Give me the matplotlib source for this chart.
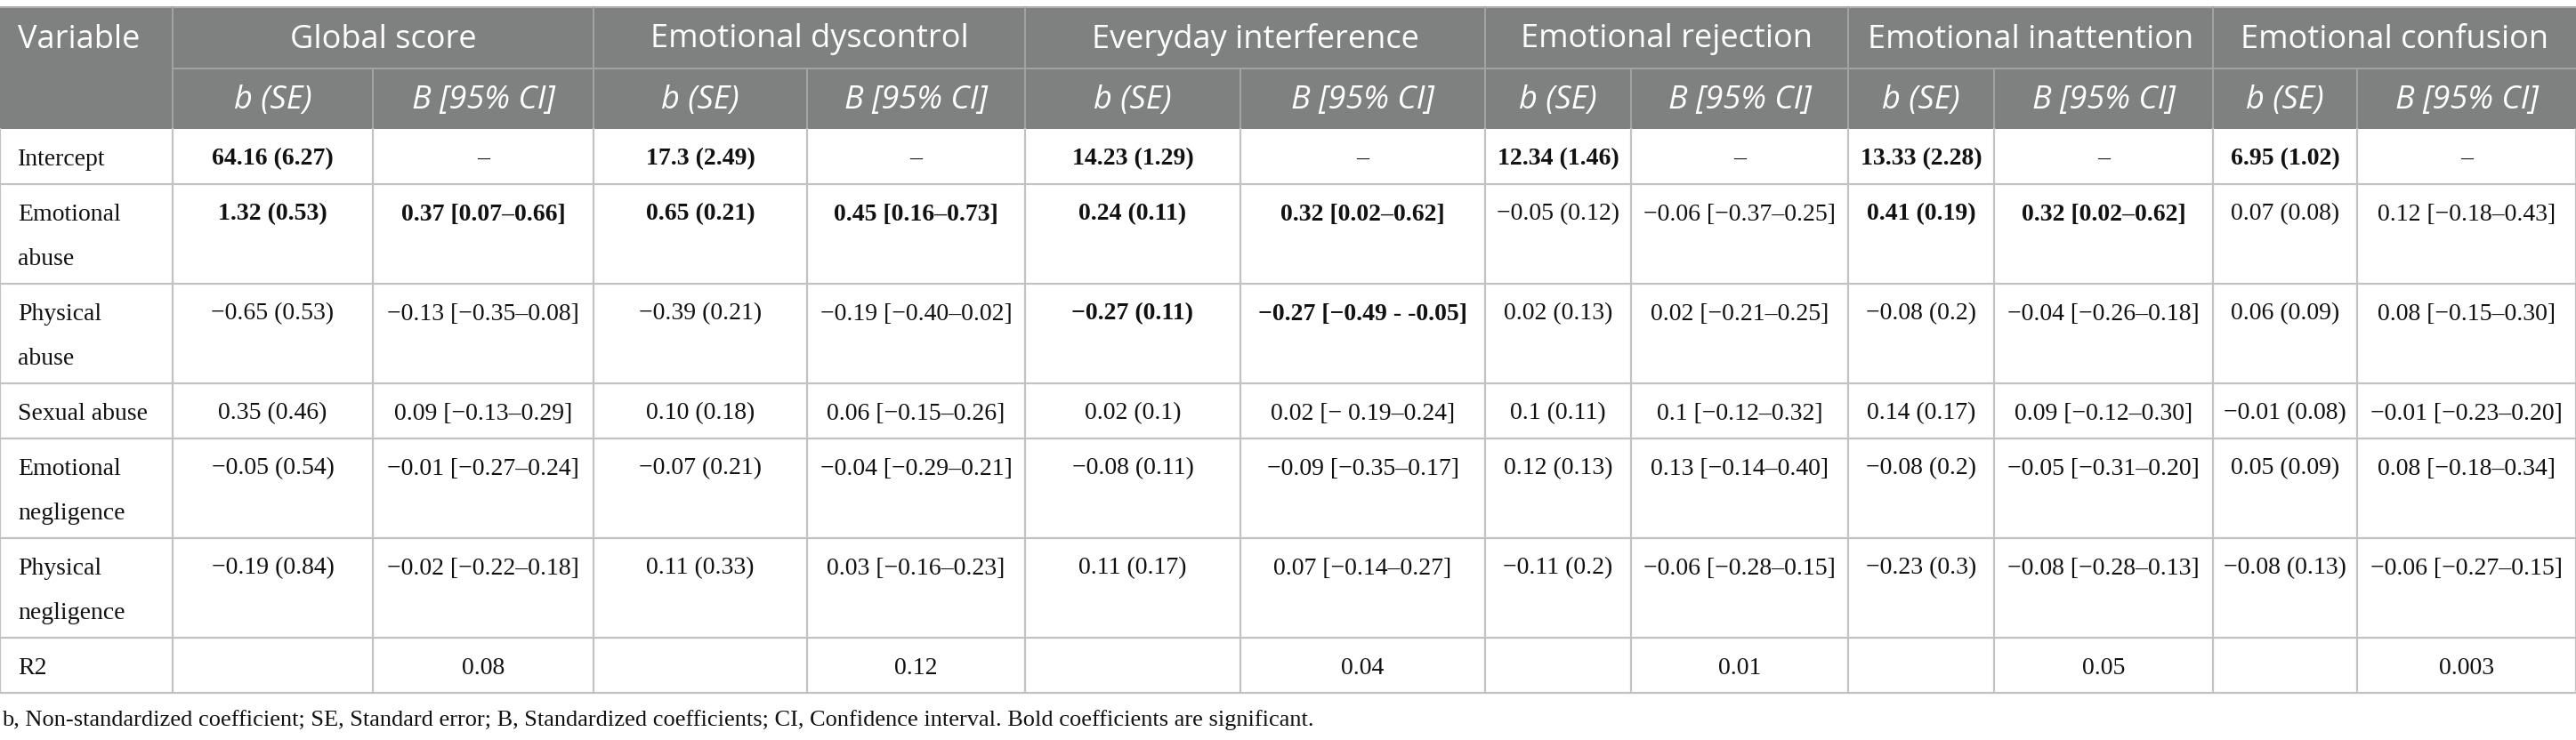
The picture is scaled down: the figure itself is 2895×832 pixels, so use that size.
import matplotlib
matplotlib.use("Agg")
import matplotlib.pyplot as plt
from matplotlib import font_manager as fm
from matplotlib.patches import Rectangle

# ---- table content ----
outcomes = ["Global score", "Emotional dyscontrol", "Everyday interference",
            "Emotional rejection", "Emotional inattention", "Emotional confusion"]
sub_headers = ["b (SE)", "B [95% CI]"]
variables = ["Intercept", "Emotional\nabuse", "Physical\nabuse", "Sexual abuse",
             "Emotional\nnegligence", "Physical\nnegligence"]

global_b = ["64.16 (6.27)", "1.32 (0.53)", "−0.65 (0.53)", "0.35 (0.46)", "−0.05 (0.54)", "−0.19 (0.84)"]
global_B = ["–", "0.37 [0.07–0.66]", "−0.13 [−0.35–0.08]", "0.09 [−0.13–0.29]", "−0.01 [−0.27–0.24]", "−0.02 [−0.22–0.18]"]
dyscontrol_b = ["17.3 (2.49)", "0.65 (0.21)", "−0.39 (0.21)", "0.10 (0.18)", "−0.07 (0.21)", "0.11 (0.33)"]
dyscontrol_B = ["–", "0.45 [0.16–0.73]", "−0.19 [−0.40–0.02]", "0.06 [−0.15–0.26]", "−0.04 [−0.29–0.21]", "0.03 [−0.16–0.23]"]
interference_b = ["14.23 (1.29)", "0.24 (0.11)", "−0.27 (0.11)", "0.02 (0.1)", "−0.08 (0.11)", "0.11 (0.17)"]
interference_B = ["–", "0.32 [0.02–0.62]", "−0.27 [−0.49 - -0.05]", "0.02 [− 0.19–0.24]", "−0.09 [−0.35–0.17]", "0.07 [−0.14–0.27]"]
rejection_b = ["12.34 (1.46)", "−0.05 (0.12)", "0.02 (0.13)", "0.1 (0.11)", "0.12 (0.13)", "−0.11 (0.2)"]
rejection_B = ["–", "−0.06 [−0.37–0.25]", "0.02 [−0.21–0.25]", "0.1 [−0.12–0.32]", "0.13 [−0.14–0.40]", "−0.06 [−0.28–0.15]"]
inattention_b = ["13.33 (2.28)", "0.41 (0.19)", "−0.08 (0.2)", "0.14 (0.17)", "−0.08 (0.2)", "−0.23 (0.3)"]
inattention_B = ["–", "0.32 [0.02–0.62]", "−0.04 [−0.26–0.18]", "0.09 [−0.12–0.30]", "−0.05 [−0.31–0.20]", "−0.08 [−0.28–0.13]"]
confusion_b = ["6.95 (1.02)", "0.07 (0.08)", "0.06 (0.09)", "−0.01 (0.08)", "0.05 (0.09)", "−0.08 (0.13)"]
confusion_B = ["–", "0.12 [−0.18–0.43]", "0.08 [−0.15–0.30]", "−0.01 [−0.23–0.20]", "0.08 [−0.18–0.34]", "−0.06 [−0.27–0.15]"]
r2_values = ["0.08", "0.12", "0.04", "0.01", "0.05", "0.003"]

# rows (besides intercept b) whose coefficients are significant, per outcome
significant_rows = [[1], [1], [1, 2], [], [1], []]

footnote = ("b, Non-standardized coefficient; SE, Standard error; B, Standardized coefficients; "
            "CI, Confidence interval. Bold coefficients are significant.")

columns_b = [global_b, dyscontrol_b, interference_b, rejection_b, inattention_b, confusion_b]
columns_B = [global_B, dyscontrol_B, interference_B, rejection_B, inattention_B, confusion_B]

# ---- layout (pixels) ----
W, H = 2895, 832
col_widths = [194, 225, 248, 240, 245, 242, 275, 164, 244, 164, 246, 162, 246]
top = 8
head1_h, head2_h = 69, 68
line_h = 50
pad = 6

HEAD_BG = "#7f8080"
HEAD_LINE = "#a3a3a3"
GRID = "#c2c2c2"
TXT = "#111111"


def pick_italic(families):
    for fam in families:
        for f in fm.fontManager.ttflist:
            if f.name == fam and f.style == "italic" and f.weight in (400, "normal", "regular"):
                return fam
    return "DejaVu Sans"


sans = ["Open Sans", "DejaVu Sans"]
sans_it = pick_italic(["Open Sans", "Noto Sans", "Lato", "Roboto", "DejaVu Sans"])
serif = ["Liberation Serif", "DejaVu Serif"]

fig = plt.figure(figsize=(W / 100, H / 100), dpi=100)
ax = fig.add_axes([0, 0, 1, 1])
ax.set_xlim(0, W)
ax.set_ylim(H, 0)
ax.axis("off")

x_edges = [0]
for w in col_widths:
    x_edges.append(x_edges[-1] + w)

y_h1 = top + head1_h
y_h2 = y_h1 + head2_h

# header background
ax.add_patch(Rectangle((0, top), W, head1_h + head2_h, facecolor=HEAD_BG, edgecolor="none"))
ax.plot([0, W], [top, top], color="#b0b0b0", lw=1.5)
ax.plot([x_edges[1], W], [y_h1, y_h1], color=HEAD_LINE, lw=1.4)
for i, xe in enumerate(x_edges[1:-1], start=1):
    y0 = top if i % 2 == 1 else y_h1
    ax.plot([xe, xe], [y0, y_h2], color=HEAD_LINE, lw=1.4)

hsize = 26
ax.text(20, top + head1_h / 2 + 2, "Variable", color="white", fontsize=hsize, family=sans,
        ha="left", va="center")
for k, name in enumerate(outcomes):
    xc = (x_edges[1 + 2 * k] + x_edges[3 + 2 * k]) / 2
    ax.text(xc, top + head1_h / 2 + 2, name, color="white", fontsize=hsize, family=sans,
            ha="center", va="center")
    for j, sub in enumerate(sub_headers):
        xs = (x_edges[1 + 2 * k + j] + x_edges[2 + 2 * k + j]) / 2
        ax.text(xs, y_h1 + head2_h / 2 + 2, sub, color="white", fontsize=hsize, family=sans_it,
                style="italic", ha="center", va="center")

# body rows
bsize = 20
row_tops = [y_h2]
for lab in variables + ["R2"]:
    n = lab.count("\n") + 1
    row_tops.append(row_tops[-1] + n * line_h + 2 * pad)


def cell_text(x, y, s, bold=False, ha="center"):
    ax.text(x, y, s, fontsize=bsize, family=serif, color=TXT,
            fontweight="bold" if bold else "normal", ha=ha, va="center")


for r, lab in enumerate(variables):
    yt = row_tops[r] + pad + line_h / 2 + 3
    for li, part in enumerate(lab.split("\n")):
        cell_text(20, yt + li * line_h, part, ha="left")
    for k in range(len(outcomes)):
        sig = r in significant_rows[k]
        xb = (x_edges[1 + 2 * k] + x_edges[2 + 2 * k]) / 2
        xB = (x_edges[2 + 2 * k] + x_edges[3 + 2 * k]) / 2
        cell_text(xb, yt, columns_b[k][r], bold=sig or r == 0)
        cell_text(xB, yt, columns_B[k][r], bold=sig)

r = len(variables)
yt = row_tops[r] + pad + line_h / 2 + 3
cell_text(20, yt, "R2", ha="left")
for k, val in enumerate(r2_values):
    cell_text((x_edges[2 + 2 * k] + x_edges[3 + 2 * k]) / 2, yt, val)

# body grid
y_bottom = row_tops[-1]
for yr in row_tops[1:]:
    ax.plot([0, W], [yr, yr], color=GRID, lw=1.6)
for xe in x_edges:
    ax.plot([xe, xe], [y_h2, y_bottom], color=GRID, lw=1.6)

ax.text(2, y_bottom + 31, footnote, fontsize=19, family=serif, color=TXT, ha="left", va="center")

fig.savefig("out.png", dpi=100, facecolor="white")
